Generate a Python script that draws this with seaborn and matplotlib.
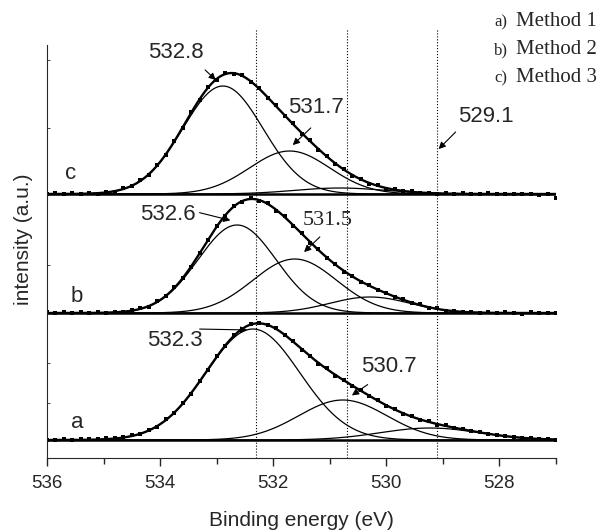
import numpy as np
import pandas as pd
import matplotlib
matplotlib.use('Agg')
import matplotlib.pyplot as plt
import seaborn as sns

# fitted O1s components: centre (eV), height (a.u.), sigma (eV)
a_centre = [532.36, 530.77, 529.23]
a_height = [111, 40, 12]
a_sigma = [0.83, 0.78, 0.88]
b_centre = [532.64, 531.62, 530.29]
b_height = [88, 54, 16]
b_sigma = [0.69, 0.74, 0.71]
c_centre = [532.89, 531.71, 530.82]
c_height = [108, 43, 6]
c_sigma = [0.71, 0.71, 0.80]
offsets = [0, 127, 246]

# measured points, 536 -> 527 eV every 0.15 eV
dot_energy = np.round(np.arange(536, 526.99, -0.15), 2)
a_dots = [0.5, 0.0, 0.8, 0.3, 1.0, 0.6, 1.2, 1.9, 2.2, 3.1, 4.6, 6.0, 10.3, 13.5, 20.8, 27.0,
          37.2, 46.5, 59.5, 70.2, 84.0, 93.8, 104.6, 110.5, 116.3, 117.5, 114.6, 111.8, 104.6,
          99.2, 90.4, 84.5, 76.5, 71.6, 64.4, 60.3, 53.8, 49.9, 43.6, 39.9, 34.1, 31.2, 26.2,
          24.0, 20.0, 18.7, 15.5, 14.6, 12.0, 11.2, 8.7, 8.1, 5.8, 5.5, 3.6, 3.3, 2.0, 2.1,
          0.9, 1.2, 0.3]
b_dots = [0.6, 0.2, 0.9, 0.4, 1.3, 0.2, 0.8, 0.5, 1.4, 1.0, 2.9, 4.6, 6.5, 11.8, 16.6, 25.6,
          35.5, 46.0, 60.5, 72.6, 87.0, 96.9, 107.2, 111.2, 115.0, 112.2, 110.1, 102.5, 97.0,
          87.1, 80.4, 70.3, 63.9, 54.6, 49.3, 41.4, 37.4, 30.9, 28.1, 22.6, 20.4, 15.6, 13.9,
          9.8, 8.6, 5.2, 4.7, 2.3, 2.4, 0.6, 1.3, 0.0, 0.8, -0.3, 0.7, 0.4, -0.5, 0.6, 0.2,
          -0.4, 0.5]
c_dots = [0.4, 0.9, 0.1, 0.7, 0.3, 1.0, 0.5, 2.2, 2.4, 5.7, 7.7, 13.8, 19.2, 29.4, 38.9, 53.4,
          66.0, 82.1, 94.3, 107.5, 114.4, 121.2, 120.0, 119.1, 111.9, 106.3, 95.9, 88.6, 77.9,
          70.7, 60.5, 53.6, 44.2, 38.1, 29.8, 25.1, 18.4, 15.3, 10.5, 8.8, 5.5, 4.9, 2.6, 2.6,
          1.1, 1.5, 0.2, 0.9, -0.1, 0.7, 0.3, -0.2, 0.6, 0.1, 0.5, -0.3, 0.4, 0.2, -0.6, 0.3,
          -3.5]

sns.set_style('ticks')
plt.rcParams['font.family'] = ['Liberation Sans', 'DejaVu Sans']

fig = plt.figure(figsize=(6.03, 5.31), dpi=100)
ax = fig.add_axes([47/603, 73/531, 509/603, 438/531])

E = np.linspace(536, 527, 500)
for cen, hei, sig, dots, off in zip([a_centre, b_centre, c_centre], [a_height, b_height, c_height],
                                    [a_sigma, b_sigma, c_sigma], [a_dots, b_dots, c_dots], offsets):
    total = np.zeros_like(E)
    for c, h, s in zip(cen, hei, sig):
        comp = h * np.exp(-(E - c)**2 / (2 * s**2))
        total += comp
        sns.lineplot(x=E, y=comp + off, ax=ax, color='k', lw=0.9, sort=False)
    sns.lineplot(x=E, y=total + off, ax=ax, color='k', lw=1.7, sort=False)
    ax.plot([536, 527], [off, off], color='k', lw=1.8)
    df = pd.DataFrame({'energy': dot_energy, 'counts': np.array(dots) + off})
    sns.scatterplot(data=df, x='energy', y='counts', ax=ax, color='k', s=6, marker='s', linewidth=0)

ax.vlines([532.3, 530.7, 529.1], -18, 411, colors='k', linestyles=':', lw=0.8)

ax.set_xlim(536, 527)
ax.set_ylim(-18, 420)
ax.set_xticks([536, 534, 532, 530, 528])
ax.set_xticks([535, 533, 531, 529, 527], minor=True)
ax.set_yticks([])
ax.set_yticks([37, 77, 175, 312, 380], minor=True)
ax.spines['top'].set_visible(False)
ax.spines['right'].set_visible(False)
ax.spines['left'].set_bounds(-18, 395)
ax.tick_params(axis='x', which='major', length=6, width=1, labelsize=13.5, direction='out', pad=6)
ax.tick_params(axis='x', which='minor', length=4, width=1, direction='out')
ax.tick_params(axis='y', which='minor', length=2, width=0.6, direction='in')
ax.set_xlabel('Binding energy (eV)', fontsize=15, labelpad=14)
ax.set_ylabel('intensity (a.u.)', fontsize=15, labelpad=7)

arrow = dict(arrowstyle='-|>', color='k', lw=0.8, mutation_scale=10)
notes = [('532.8', 533.72, 388, 533.24, 372, 532.98, 358, 'sans'),
         ('531.7', 531.25, 333, 531.30, 314, 531.69, 293, 'sans'),
         ('529.1', 528.24, 324, 528.74, 310, 529.11, 289, 'sans'),
         ('532.6', 533.86, 226, 533.35, 228, 532.71, 219, 'sans'),
         ('531.5', 531.04, 220, 531.14, 205, 531.49, 186, 'serif'),
         ('532.3', 533.74, 99, 533.35, 111, 532.41, 110, 'sans'),
         ('530.7', 529.96, 74, 530.29, 57, 530.65, 43, 'sans')]
for txt, tx, ty, x0, y0, x1, y1, fam in notes:
    family = ['Liberation Serif'] if fam == 'serif' else ['Liberation Sans']
    ax.text(tx, ty, txt, fontsize=16, ha='center', va='center', family=family)
    ax.annotate('', xy=(x1, y1), xytext=(x0, y0), arrowprops=arrow)

for lab, x, y in [('a', 535.47, 18), ('b', 535.47, 144), ('c', 535.58, 267)]:
    ax.text(x, y, lab, fontsize=16, ha='center', va='center')

for i, (tag, name) in enumerate([('a)', 'Method 1'), ('b)', 'Method 2'), ('c)', 'Method 3')]):
    y = 1 - (22 + 28 * i) / 531
    fig.text(494/603, y, tag, fontsize=12, family=['Liberation Serif'], va='center')
    fig.text(516/603, y, name, fontsize=15, family=['Liberation Serif'], va='center')

fig.savefig('out.png', dpi=100)
